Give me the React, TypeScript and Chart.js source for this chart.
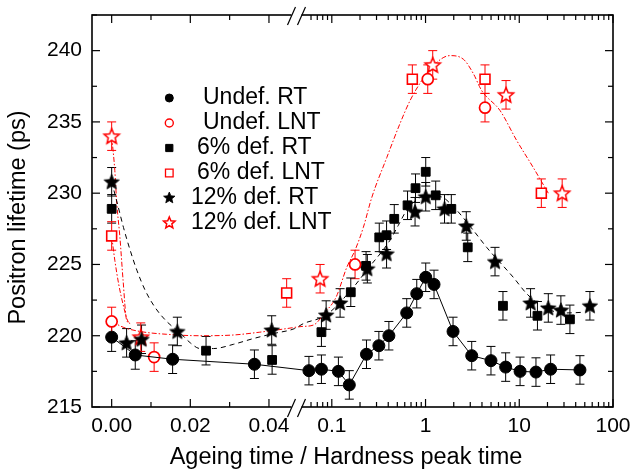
import React, { useEffect, useRef } from 'react';
import { Chart, registerables, LinearScale } from 'chart.js';

Chart.register(...registerables);

// ---------------- data ----------------
const UNDEF_RT_X = [0, 0.006, 0.0155, 0.0363, 0.057, 0.0775, 0.1176, 0.1537, 0.2344, 0.3177, 0.4064, 0.63, 0.806, 1.005, 1.232, 1.965, 3.11, 4.99, 7.16, 10.2, 15.07, 21.6, 44.4];
const UNDEF_RT_Y = [219.9, 218.65, 218.35, 218.0, 217.55, 217.65, 217.5, 216.55, 218.7, 219.3, 220.0, 221.6, 222.95, 224.1, 223.6, 220.3, 218.6, 218.25, 217.8, 217.5, 217.45, 217.65, 217.6];
const UNDEF_RT_ERR = [1, 1, 1, 1, 1, 1, 1, 1, 1, 1, 1, 1, 1, 1, 1, 1, 1, 1, 1, 1, 1, 1, 1];

const UNDEF_LNT_X = [0, 0.0108, 0.177, 1.056, 4.31];
const UNDEF_LNT_Y = [221.0, 218.5, 225.0, 238.0, 236.0];
const UNDEF_LNT_ERR = [1, 1, 1, 1, 1];

const DEF6_RT_X = [0, 0.024, 0.0408, 0.0775, 0.1594, 0.232, 0.3208, 0.3839, 0.4637, 0.6426, 0.782, 1.005, 1.284, 1.884, 2.82, 6.7, 15.63, 34.7];
const DEF6_RT_Y = [228.9, 218.95, 218.3, 220.25, 223.05, 224.9, 226.9, 227.05, 228.2, 229.15, 230.35, 231.5, 229.85, 228.9, 226.2, 222.1, 221.4, 221.15];
const DEF6_RT_ERR = [1, 1, 1, 1, 1, 1, 1, 1, 1, 1, 1, 1, 1, 1, 1, 1, 1, 1];

const DEF6_LNT_X = [0, 0.0445, 0.723, 4.31, 17.2];
const DEF6_LNT_Y = [227.0, 223.0, 238.0, 238.0, 230.0];
const DEF6_LNT_ERR = [1, 1, 1, 1, 1];

const DEF12_RT_X = [0, 0.0038, 0.0076, 0.0167, 0.0407, 0.087, 0.1226, 0.2395, 0.3839, 0.773, 1.005, 1.594, 2.72, 5.51, 13.2, 20.4, 27.8, 56.7];
const DEF12_RT_Y = [230.8, 219.5, 219.75, 220.3, 220.4, 221.45, 222.3, 224.7, 225.75, 228.7, 229.75, 228.9, 227.7, 225.2, 222.3, 221.95, 221.8, 222.1];
const DEF12_RT_ERR = [1, 1, 1, 1, 1, 1, 1, 1, 1, 1, 1, 1, 1, 1, 1, 1, 1, 1];

const DEF12_LNT_X = [0, 0.0074, 0.075, 1.193, 7.22, 28.7];
const DEF12_LNT_Y = [234.0, 219.9, 224.0, 239.0, 236.9, 230.0];
const DEF12_LNT_ERR = [1, 1, 1, 1, 1, 1];

// fitted guide curves
const FIT_RT_X = [0, 0.0017, 0.003, 0.0047, 0.0064, 0.0085, 0.011, 0.014, 0.0174, 0.02, 0.0225, 0.0259, 0.031, 0.036, 0.0411, 0.0465, 0.0498, 0.087, 0.17, 0.236, 0.418, 0.513, 0.63, 0.947, 1.43, 1.98, 3.23, 4.49, 8.63, 12.0, 18.0, 32.0, 50];
const FIT_RT_Y = [230.8, 229.0, 227.6, 226.0, 224.6, 223.2, 222.0, 221.0, 220.2, 219.5, 219.1, 219.1, 219.4, 219.8, 220.15, 220.5, 220.85, 221.45, 223.4, 224.6, 226.7, 227.75, 228.8, 229.75, 229.75, 229.05, 227.4, 226.2, 224.1, 222.95, 222.0, 221.6, 221.65];

const FIT_LNT_X = [0, 0.0029, 0.0072, 0.014, 0.0224, 0.0309, 0.0377, 0.0445, 0.0482, 0.0637, 0.0849, 0.111, 0.1445, 0.177, 0.217, 0.267, 0.386, 0.535, 0.684, 0.911, 1.21, 1.82, 2.53, 3.23, 3.97, 6.23, 9.38, 14.1, 20.4];
const FIT_LNT_Y = [221.0, 220.6, 220.3, 220.1, 220.0, 220.05, 220.25, 220.5, 220.65, 220.75, 221.65, 222.7, 224.8, 226.0, 227.6, 229.7, 232.5, 234.9, 236.5, 237.9, 238.95, 239.65, 239.4, 238.4, 237.2, 235.8, 233.7, 231.8, 230.0];

const FIT_LNT_A_X = [0, 0.0008, 0.0013, 0.0021, 0.0029, 0.0038, 0.0047];
const FIT_LNT_A_Y = [234.0, 231.6, 229.3, 226.9, 223.9, 221.1, 220.85];

const FIT_LNT_B_X = [0, 0.0008, 0.0018, 0.0029, 0.004, 0.0047];
const FIT_LNT_B_Y = [227.0, 225.3, 223.6, 222.2, 221.1, 220.85];

// axis ticks
const X_MAJOR_VALUES = [0, 0.02, 0.04, 0.1, 1, 10, 100];
const X_MAJOR_LABELS = ['0.00', '0.02', '0.04', '0.1', '1', '10', '100'];
const X_MINOR_VALUES = [0.01, 0.03, 0.06, 0.07, 0.08, 0.09, 0.2, 0.3, 0.4, 0.5, 0.6, 0.7, 0.8, 0.9, 2, 3, 4, 5, 6, 7, 8, 9, 20, 30, 40, 50, 60, 70, 80, 90];
const Y_MIN = 215;
const Y_MAX = 242.5;
const Y_STEP = 2.5;
const Y_LABEL_STEP = 5;

// broken axis: linear part then log part
const LIN_MIN = -0.005;
const LIN_MAX = 0.047;
const LOG_MIN = 0.042;
const LOG_MAX = 100;
const BREAK_FRAC = 0.3925;

const BLACK = '#000000';
const RED = '#ff0000';
const FONT = "'Liberation Sans', Arial, Helvetica, sans-serif";

class BrokenAxisScale extends LinearScale {
  static id = 'brokenAxis';
  static defaults = {};
  determineDataLimits() {
    (this as any).min = LIN_MIN;
    (this as any).max = LOG_MAX;
  }
  buildTicks() {
    const vals = [...X_MAJOR_VALUES, ...X_MINOR_VALUES].sort((a, b) => a - b);
    return vals.map((v) => ({ value: v, major: X_MAJOR_VALUES.includes(v) }));
  }
  getLabelForValue(v: number) {
    return String(v);
  }
  breakPixel() {
    const s: any = this;
    return s.left + BREAK_FRAC * s.width;
  }
  getPixelForValue(v: number) {
    const s: any = this;
    if (v === null || v === undefined || isNaN(v)) return NaN;
    const b = this.breakPixel();
    if (v <= LIN_MAX) {
      return s.left + ((v - LIN_MIN) / (LIN_MAX - LIN_MIN)) * (b - s.left);
    }
    const l0 = Math.log10(LOG_MIN);
    const l1 = Math.log10(LOG_MAX);
    return b + ((Math.log10(v) - l0) / (l1 - l0)) * (s.right - b);
  }
  getValueForPixel(px: number) {
    const s: any = this;
    const b = this.breakPixel();
    if (px <= b) return LIN_MIN + ((px - s.left) / (b - s.left)) * (LIN_MAX - LIN_MIN);
    const l0 = Math.log10(LOG_MIN);
    const l1 = Math.log10(LOG_MAX);
    return Math.pow(10, l0 + ((px - b) / (s.right - b)) * (l1 - l0));
  }
}
Chart.register(BrokenAxisScale as any);

function pts(xs: number[], ys: number[]) {
  return xs.map((x, i) => ({ x, y: ys[i] }));
}

function markerPath(ctx: CanvasRenderingContext2D, shape: string, x: number, y: number, size: number) {
  ctx.beginPath();
  if (shape === 'circle') {
    ctx.arc(x, y, size, 0, Math.PI * 2);
  } else if (shape === 'square') {
    ctx.rect(x - size, y - size, 2 * size, 2 * size);
  } else {
    for (let i = 0; i < 10; i++) {
      const a = -Math.PI / 2 + (i * Math.PI) / 5;
      const r = i % 2 === 0 ? size : size * 0.45;
      const px = x + r * Math.cos(a);
      const py = y + r * Math.sin(a);
      if (i === 0) ctx.moveTo(px, py);
      else ctx.lineTo(px, py);
    }
    ctx.closePath();
  }
}

function drawMarker(ctx: CanvasRenderingContext2D, m: any, x: number, y: number, size: number) {
  ctx.save();
  markerPath(ctx, m.shape, x, y, size);
  ctx.fillStyle = m.fill;
  ctx.fill();
  ctx.strokeStyle = m.stroke;
  ctx.lineWidth = m.lw;
  ctx.lineJoin = 'miter';
  ctx.stroke();
  ctx.restore();
}

function makeStar(m: any, R: number) {
  const size = Math.ceil(2 * R + 4);
  const c = document.createElement('canvas');
  c.width = size;
  c.height = size;
  const ctx = c.getContext('2d')!;
  drawMarker(ctx, m, size / 2, size / 2 + R * 0.08, R);
  return c;
}

const errorBarPlugin = {
  id: 'errorBars',
  beforeDatasetsDraw(chart: any) {
    const { ctx, scales } = chart;
    const x = scales.x;
    const y = scales.y;
    ctx.save();
    ctx.lineWidth = 1;
    chart.data.datasets.forEach((ds: any) => {
      if (!ds.errors) return;
      ctx.strokeStyle = ds.errColor;
      ds.data.forEach((p: any, i: number) => {
        const e = ds.errors[i];
        const px = x.getPixelForValue(p.x);
        const y1 = y.getPixelForValue(p.y + e);
        const y2 = y.getPixelForValue(p.y - e);
        const cap = 4.5;
        ctx.beginPath();
        ctx.moveTo(px, y1);
        ctx.lineTo(px, y2);
        ctx.moveTo(px - cap, y1);
        ctx.lineTo(px + cap, y1);
        ctx.moveTo(px - cap, y2);
        ctx.lineTo(px + cap, y2);
        ctx.stroke();
      });
    });
    ctx.restore();
  },
};

const framePlugin = {
  id: 'frame',
  afterDatasetsDraw(chart: any) {
    const { ctx, chartArea: a, scales } = chart;
    const x = scales.x;
    const y = scales.y;
    ctx.save();
    ctx.strokeStyle = BLACK;
    ctx.lineWidth = 1.6;
    ctx.strokeRect(a.left, a.top, a.right - a.left, a.bottom - a.top);
    ctx.lineWidth = 1.2;
    const seg = (x1: number, y1: number, x2: number, y2: number) => {
      ctx.beginPath();
      ctx.moveTo(x1, y1);
      ctx.lineTo(x2, y2);
      ctx.stroke();
    };
    x.ticks.forEach((t: any) => {
      const px = x.getPixelForValue(t.value);
      const len = X_MAJOR_VALUES.includes(t.value) ? 8 : 5;
      seg(px, a.bottom, px, a.bottom - len);
      seg(px, a.top, px, a.top + len);
    });
    y.ticks.forEach((t: any) => {
      const py = y.getPixelForValue(t.value);
      const len = Math.abs(t.value % Y_LABEL_STEP) < 1e-6 ? 8 : 5;
      seg(a.left, py, a.left + len, py);
      seg(a.right, py, a.right - len, py);
    });
    // axis break marks
    const b = x.left + BREAK_FRAC * x.width;
    [a.top, a.bottom].forEach((yy: number) => {
      ctx.fillStyle = '#ffffff';
      ctx.fillRect(b - 5, yy - 2, 10, 4);
      ctx.lineWidth = 1.2;
      seg(b - 5 - 4, yy + 10, b - 5 + 4, yy - 8);
      seg(b + 5 - 4, yy + 10, b + 5 + 4, yy - 8);
    });
    ctx.restore();
  },
};

const LEGEND_TEXT_OFFSETS = [111, 111, 105, 105, 99, 99];

const legendPlugin = {
  id: 'customLegend',
  afterDraw(chart: any) {
    const { ctx, chartArea: a } = chart;
    ctx.save();
    ctx.font = `23px ${FONT}`;
    ctx.fillStyle = BLACK;
    ctx.textBaseline = 'middle';
    ctx.textAlign = 'left';
    chart.data.datasets.forEach((ds: any, i: number) => {
      if (!ds.marker) return;
      const yy = a.top + 83 + 25 * i;
      drawMarker(ctx, ds.marker, a.left + 77.3, yy, ds.marker.legendSize);
      ctx.fillStyle = BLACK;
      ctx.fillText(ds.label, a.left + LEGEND_TEXT_OFFSETS[i], yy - 0.5);
    });
    ctx.restore();
  },
};

export default function App() {
  const ref = useRef<HTMLCanvasElement>(null);
  useEffect(() => {
    const canvas = ref.current!;
    const mkBlackStar = { shape: 'star', fill: BLACK, stroke: BLACK, lw: 0.8, legendSize: 6 };
    const mkRedStar = { shape: 'star', fill: '#ffffff', stroke: RED, lw: 1.5, legendSize: 6 };
    const blackStar = makeStar(mkBlackStar, 8);
    const redStar = makeStar(mkRedStar, 8);

    const datasets: any[] = [
      {
        label: 'Undef. RT',
        data: pts(UNDEF_RT_X, UNDEF_RT_Y),
        errors: UNDEF_RT_ERR,
        errColor: BLACK,
        marker: { shape: 'circle', fill: BLACK, stroke: BLACK, lw: 1, legendSize: 4 },
        showLine: true,
        borderColor: BLACK,
        borderWidth: 1,
        tension: 0,
        pointStyle: 'circle',
        pointRadius: 6,
        pointBackgroundColor: BLACK,
        pointBorderColor: BLACK,
        pointBorderWidth: 1,
      },
      {
        label: 'Undef. LNT',
        data: pts(UNDEF_LNT_X, UNDEF_LNT_Y),
        errors: UNDEF_LNT_ERR,
        errColor: RED,
        marker: { shape: 'circle', fill: '#ffffff', stroke: RED, lw: 1.4, legendSize: 4 },
        showLine: false,
        pointStyle: 'circle',
        pointRadius: 5.5,
        pointBackgroundColor: '#ffffff',
        pointBorderColor: RED,
        pointBorderWidth: 1.7,
      },
      {
        label: '6% def. RT',
        data: pts(DEF6_RT_X, DEF6_RT_Y),
        errors: DEF6_RT_ERR,
        errColor: BLACK,
        marker: { shape: 'square', fill: BLACK, stroke: BLACK, lw: 1, legendSize: 3.6 },
        showLine: false,
        pointStyle: 'rect',
        pointRadius: 6.2,
        pointBackgroundColor: BLACK,
        pointBorderColor: BLACK,
        pointBorderWidth: 1,
      },
      {
        label: '6% def. LNT',
        data: pts(DEF6_LNT_X, DEF6_LNT_Y),
        errors: DEF6_LNT_ERR,
        errColor: RED,
        marker: { shape: 'square', fill: '#ffffff', stroke: RED, lw: 1.3, legendSize: 3.8 },
        showLine: false,
        pointStyle: 'rect',
        pointRadius: 7,
        pointBackgroundColor: '#ffffff',
        pointBorderColor: RED,
        pointBorderWidth: 1.6,
      },
      {
        label: '12% def. RT',
        data: pts(DEF12_RT_X, DEF12_RT_Y),
        errors: DEF12_RT_ERR,
        errColor: BLACK,
        marker: mkBlackStar,
        showLine: false,
        pointStyle: blackStar,
        pointRadius: 7,
      },
      {
        label: '12% def. LNT',
        data: pts(DEF12_LNT_X, DEF12_LNT_Y),
        errors: DEF12_LNT_ERR,
        errColor: RED,
        marker: mkRedStar,
        showLine: false,
        pointStyle: redStar,
        pointRadius: 7,
      },
      {
        label: 'RT guide',
        data: pts(FIT_RT_X, FIT_RT_Y),
        showLine: true,
        borderColor: BLACK,
        borderWidth: 1,
        borderDash: [5, 4],
        cubicInterpolationMode: 'monotone',
        pointRadius: 0,
      },
      {
        label: 'LNT guide',
        data: pts(FIT_LNT_X, FIT_LNT_Y),
        showLine: true,
        borderColor: RED,
        borderWidth: 1,
        borderDash: [5, 2, 1.5, 2],
        cubicInterpolationMode: 'monotone',
        pointRadius: 0,
      },
      {
        label: 'LNT guide A',
        data: pts(FIT_LNT_A_X, FIT_LNT_A_Y),
        showLine: true,
        borderColor: RED,
        borderWidth: 1,
        borderDash: [5, 2, 1.5, 2],
        cubicInterpolationMode: 'monotone',
        pointRadius: 0,
      },
      {
        label: 'LNT guide B',
        data: pts(FIT_LNT_B_X, FIT_LNT_B_Y),
        showLine: true,
        borderColor: RED,
        borderWidth: 1,
        borderDash: [5, 2, 1.5, 2],
        cubicInterpolationMode: 'monotone',
        pointRadius: 0,
      },
    ];

    const chart = new Chart(canvas, {
      type: 'scatter',
      data: { datasets },
      options: {
        responsive: false,
        animation: false,
        events: [],
        layout: { padding: { top: 15, right: 20, bottom: 0, left: 0 } },
        plugins: { legend: { display: false }, tooltip: { enabled: false } },
        scales: {
          x: {
            type: 'brokenAxis' as any,
            grid: { display: false, drawTicks: false },
            border: { display: false },
            ticks: {
              autoSkip: false,
              maxRotation: 0,
              minRotation: 0,
              padding: 7,
              color: BLACK,
              font: { family: FONT, size: 21 },
              callback: (v: any) => {
                const i = X_MAJOR_VALUES.indexOf(Number(v));
                return i >= 0 ? X_MAJOR_LABELS[i] : '';
              },
            },
            title: {
              display: true,
              text: 'Ageing time / Hardness peak time  ',
              color: BLACK,
              font: { family: FONT, size: 23.5 },
              padding: { top: 0, bottom: 0 },
            },
            afterFit: (s: any) => {
              s.height = 65;
              s.paddingLeft = 0;
              s.paddingRight = 0;
            },
          } as any,
          y: {
            type: 'linear',
            min: Y_MIN,
            max: Y_MAX,
            grid: { display: false, drawTicks: false },
            border: { display: false },
            ticks: {
              stepSize: Y_STEP,
              padding: 10,
              color: BLACK,
              font: { family: FONT, size: 21 },
              callback: (v: any) => (Math.abs(Number(v) % Y_LABEL_STEP) < 1e-6 ? String(v) : ''),
            },
            title: {
              display: true,
              text: 'Positron lifetime (ps)  ',
              color: BLACK,
              font: { family: FONT, size: 23.5 },
              padding: { top: 4, bottom: 0 },
            },
            afterFit: (s: any) => {
              s.width = 92;
              s.paddingTop = 0;
              s.paddingBottom = 0;
            },
          },
        },
      } as any,
      plugins: [errorBarPlugin, framePlugin, legendPlugin],
    });
    return () => chart.destroy();
  }, []);

  return (
    <div style={{ position: 'fixed', left: 0, top: 0, width: 633, height: 472, background: '#ffffff' }}>
      <canvas ref={ref} width={633} height={472} style={{ display: 'block', width: 633, height: 472 }} />
    </div>
  );
}
